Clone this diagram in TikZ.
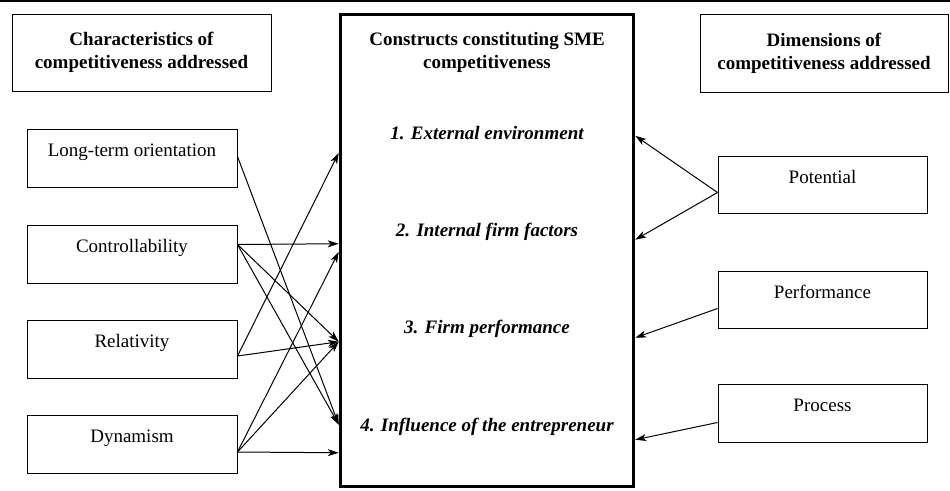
\documentclass[tikz,border=0pt]{standalone}
\usepackage{fontspec}
\setmainfont{Liberation Serif}
\usetikzlibrary{arrows.meta,calc}
\begin{document}
\begin{tikzpicture}[x=1pt,y=-1pt,
  txt/.style={font=\fontsize{19}{22}\selectfont},
  box/.style={draw,line width=1pt,inner sep=0pt,minimum width=210pt,minimum height=58pt,
    text height=27pt,text depth=31pt,txt},
  head/.style={draw,line width=1pt,inner sep=0pt,align=center,
    font=\fontsize{19}{23}\selectfont\bfseries},
  item/.style={font=\fontsize{19}{22}\selectfont\bfseries\itshape},
  arr/.style={line width=1pt,-{Stealth[length=11pt,width=7pt,inset=3pt]}}]
\useasboundingbox (0,0) rectangle (950,490);
% top rule
\draw[line width=2.5pt] (0,1) -- (950,1);

% headers
\node[head,minimum width=259pt,minimum height=77pt] (lh) at (141.5,52.5)
  {Characteristics of\\competitiveness addressed};
\node[head,minimum width=248pt,minimum height=78pt] (rh) at (824,53)
  {Dimensions of\\competitiveness addressed};

% central box
\node[draw,line width=3.5pt,inner sep=0pt,minimum width=293pt,minimum height=472pt] (cb) at (487,250.5) {};
\node[item,font=\fontsize{19}{23}\selectfont\bfseries,align=center] (ch) at (487,52)
  {Constructs constituting SME\\competitiveness};
\node[item] (c1) at (487,133) {1. External environment};
\node[item] (c2) at (487,232) {2. Internal firm factors};
\node[item] (c3) at (487,329) {3. Firm performance};
\node[item] (c4) at (487,427) {4. Influence of the entrepreneur};

% left boxes
\node[box] (lt) at (132,158) {Long-term orientation};
\node[box] (co) at (132,254) {Controllability};
\node[box] (re) at (132,349.5) {Relativity};
\node[box] (dy) at (132,444.5) {Dynamism};

% right boxes
\node[box,minimum width=209pt,minimum height=57pt,text depth=30pt] (po) at (822.5,184.5) {Potential};
\node[box,minimum width=209pt,minimum height=57pt,text depth=30pt] (pe) at (822.5,299.5) {Performance};
\node[box,minimum width=209pt,minimum height=58pt] (pr) at (822.5,413) {Process};

% start points on left boxes
\coordinate (slt) at ($(lt.north east)+(0,28)$);
\coordinate (sco) at ($(co.north east)+(0,20)$);
\coordinate (sre) at ($(re.north east)+(0,36)$);
\coordinate (sdy) at ($(dy.north east)+(0,37)$);
% targets on left side of central box
\coordinate (t1) at ($(cb.north west)+(0,140)$);
\coordinate (t2a) at ($(cb.north west)+(0,231)$);
\coordinate (t2b) at ($(cb.north west)+(0,239)$);
\coordinate (t3) at ($(cb.north west)+(0,329)$);
\coordinate (t4) at ($(cb.north west)+(0,412)$);
\coordinate (t4b) at ($(cb.north west)+(0,440)$);

\draw[arr] (slt) -- (t4);
\draw[arr] (sco) -- (t2a);
\draw[arr] (sco) -- (t3);
\draw[arr] (sco) -- (t4);
\draw[arr] (sre) -- (t1);
\draw[arr] (sre) -- (t3);
\draw[arr] (sdy) -- (t2b);
\draw[arr] (sdy) -- (t3);
\draw[arr] (sdy) -- (t4b);

% right side
\coordinate (spo) at ($(po.north west)+(0,37)$);
\coordinate (spe) at ($(pe.north west)+(0,38)$);
\coordinate (spr) at ($(pr.north west)+(0,39)$);
\coordinate (r1) at ($(cb.north east)+(0,123)$);
\coordinate (r2) at ($(cb.north east)+(0,227)$);
\coordinate (r3) at ($(cb.north east)+(0,325)$);
\coordinate (r4) at ($(cb.north east)+(0,427)$);

\draw[arr] (spo) -- (r1);
\draw[arr] (spo) -- (r2);
\draw[arr] (spe) -- (r3);
\draw[arr] (spr) -- (r4);
\end{tikzpicture}
\end{document}
